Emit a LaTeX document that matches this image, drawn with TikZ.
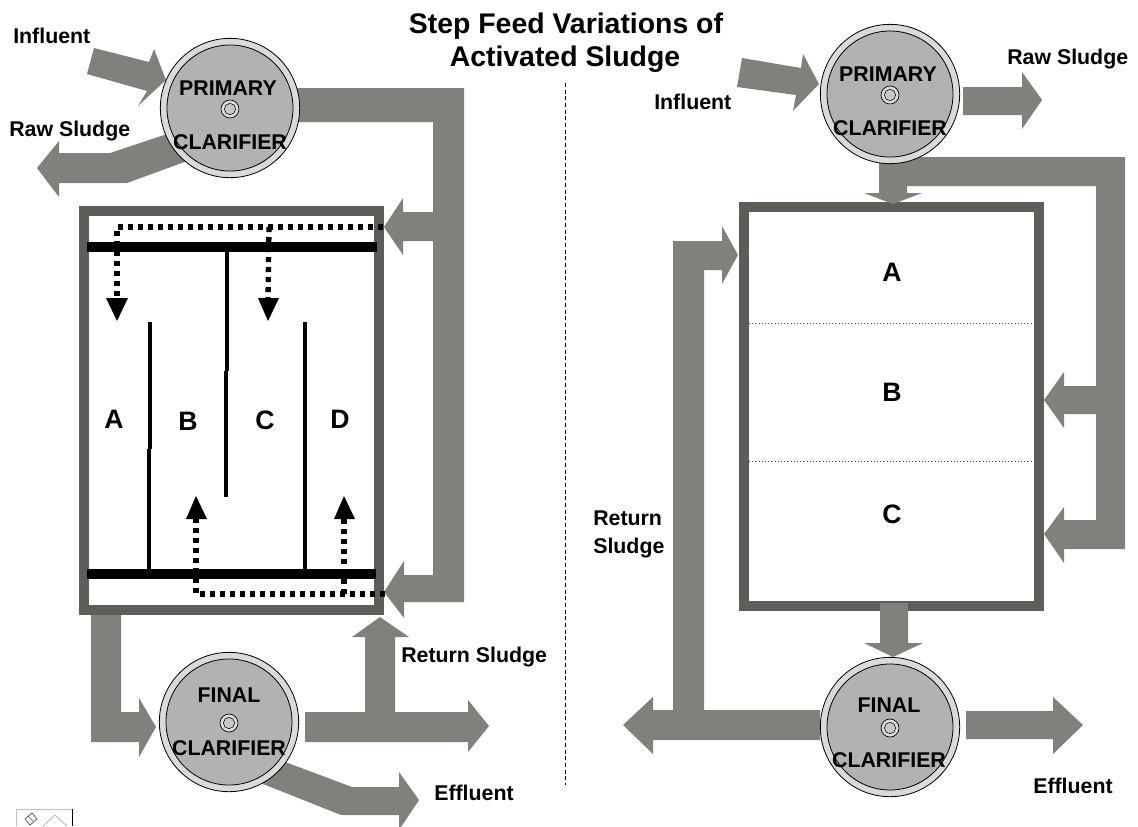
\documentclass[tikz,border=0pt]{standalone}
\usepackage{fontspec}
\setmainfont{Liberation Sans}
\usetikzlibrary{arrows.meta}
\definecolor{pipegray}{HTML}{7F817D}
\definecolor{tankgray}{HTML}{5C5E5A}
\definecolor{discgray}{HTML}{B2B2B2}
\definecolor{ringgray}{HTML}{DADADA}
\definecolor{hubgray}{HTML}{C8C8C8}
\tikzset{
  pipe/.style={fill=pipegray,draw=none},
  tank/.style={draw=tankgray,line width=7.5pt,fill=white},
  clarouter/.style={circle,draw=black,line width=0.6pt,fill=ringgray,inner sep=0,outer sep=0,minimum size=104.5pt},
  clarinner/.style={circle,draw=black,line width=0.6pt,fill=discgray,inner sep=0,outer sep=0,minimum size=94.5pt},
  hubouter/.style={circle,draw=black,line width=0.5pt,fill=ringgray,inner sep=0,outer sep=0,minimum size=13.5pt},
  hubinner/.style={circle,draw=black,line width=0.4pt,fill=hubgray,inner sep=0,outer sep=0,minimum size=8.5pt},
  lab/.style={font=\fontsize{16}{18}\selectfont\bfseries,inner sep=0,text height=0.72em,text depth=0.21em,yshift=-3pt},
  letterlab/.style={font=\fontsize{20}{22}\selectfont\bfseries,inner sep=0},
  titlelab/.style={font=\fontsize{21.3}{24}\selectfont\bfseries,inner sep=0,text height=0.72em,text depth=0.21em,yshift=-4pt},
  wall/.style={draw=black,line width=3pt},
  bar/.style={draw=black,line width=7.5pt},
  flow/.style={draw=black,line width=4pt,dash pattern=on 3.8pt off 3.7pt},
  flowhead/.style={fill=black,draw=none},
  divide/.style={draw=black!70,line width=0.4pt,dotted},
}
\begin{document}
\begin{tikzpicture}[x=0.75pt,y=-0.75pt]
\useasboundingbox (0,0) rectangle (1138,826);
\clip (0,0) rectangle (1138,826);
\fill[white] (0,0) rectangle (1138,826);

% ---------- LEFT SCHEME ----------
\draw[tank] (84,211) rectangle (379,610);
% influent and raw sludge
\fill[pipe] (94,48) -- (87,74) -- (147,91) -- (138,106) -- (166,80) -- (154,49) -- (149,62) -- cycle;
\fill[pipe] (170,133) -- (110,153) -- (59,153) -- (59,141) -- (37,168) -- (59,197) -- (59,183) -- (127,183) -- (190,160) -- cycle;
% primary effluent pipe with two feed arrows
\fill[pipe] (295,88) -- (464,88) -- (464,602) -- (404,602) -- (404,618) -- (384,592) -- (404,561) -- (404,575) -- (433,575)
  -- (433,241) -- (403,241) -- (403,255) -- (384,227) -- (403,198) -- (403,212) -- (433,212) -- (433,122) -- (295,122) -- cycle;
% tank to final clarifier
\fill[pipe] (91,615) -- (121,615) -- (121,712) -- (139,712) -- (139,698) -- (156,727) -- (139,757) -- (139,742) -- (91,742) -- cycle;
% final clarifier outlet and return
\fill[pipe] (305,712) -- (365,712) -- (365,637) -- (352,637) -- (380,617) -- (409,637) -- (395,637) -- (395,712) -- (468,712) -- (468,700)
  -- (489,726) -- (468,752) -- (468,742) -- (305,742) -- cycle;
% effluent
\fill[pipe] (280,760) -- (352,787) -- (399,787) -- (399,772) -- (419,800) -- (399,830) -- (399,815) -- (341,815) -- (258,782) -- cycle;

% internal walls
\draw[bar] (87,247) -- (377,247);
\draw[bar] (87,573.5) -- (376,573.5);
\draw[wall] (227,252) -- (227,371);
\draw[wall] (226,371) -- (226,497);
\draw[wall] (150,322) -- (150,449);
\draw[wall] (149,449) -- (149,570);
\draw[wall] (305,322) -- (305,570);
% dotted feeds
\coordinate (ftl) at (383,227);
\coordinate (fta) at (117,227);
\coordinate (fth) at (117,300);
\coordinate (ftb) at (269,227);
\coordinate (fti) at (268,300);
\coordinate (fbr) at (385,594);
\coordinate (fbb) at (196,594);
\coordinate (fbh) at (196,518);
\coordinate (fbd) at (344,594);
\coordinate (fbi) at (344,518);
\draw[flow] (ftl) -- (fta) -- (fth);
\draw[flow] (ftb) -- (fti);
\draw[flow] (fbr) -- (fbb) -- (fbh);
\draw[flow] (fbd) -- (fbi);
\fill[flowhead] (106,298) -- (128,298) -- (117,321) -- cycle;
\fill[flowhead] (258,298) -- (279,298) -- (268,321) -- cycle;
\fill[flowhead] (186,519) -- (207,519) -- (196,496) -- cycle;
\fill[flowhead] (334,519) -- (355,519) -- (344,496) -- cycle;

% clarifiers
\node[clarouter] (pl) at (230,108) {};
\node[clarinner] (plin) at (230,108) {};
\node[hubouter] (plh) at (230,109) {};
\node[hubinner] (plhi) at (230,109) {};
\node[clarouter] (fl) at (229,722) {};
\node[clarinner] (flin) at (229,722) {};
\node[hubouter] (flh) at (229,723) {};
\node[hubinner] (flhi) at (229,723) {};

\node[lab] (t1) at (228,88) {PRIMARY};
\node[lab] (t2) at (230,142) {CLARIFIER};
\node[lab] (t3) at (229,695) {FINAL};
\node[lab] (t4) at (229,748) {CLARIFIER};
\node[lab,anchor=west] (t5) at (13,36) {Influent};
\node[lab,anchor=west] (t6) at (9,129) {Raw Sludge};
\node[lab,anchor=west] (t7) at (401,655) {Return Sludge};
\node[lab,anchor=west] (t8) at (434,793) {Effluent};
\node[letterlab] (la) at (114,419) {A};
\node[letterlab] (lb) at (188,421) {B};
\node[letterlab] (lc) at (265,420) {C};
\node[letterlab] (ld) at (340,419) {D};

% ---------- CENTRE ----------
\node[titlelab] (title1) at (566,25) {Step Feed Variations of};
\node[titlelab] (title2) at (565,58) {Activated Sludge};
\coordinate (dtop) at (565,83);
\coordinate (dbot) at (565,785);
\draw[black,line width=0.5pt,dash pattern=on 3pt off 2pt] (dtop) -- (dbot);

% ---------- RIGHT SCHEME ----------
\draw[tank] (744,207) rectangle (1039,606);
\draw[divide] (749,323) -- (1034,323);
\draw[divide] (749,461) -- (1034,461);
% influent, raw sludge
\fill[pipe] (742,58) -- (737,87) -- (796,95) -- (793,111) -- (819,84) -- (803,54) -- (801,68) -- cycle;
\fill[pipe] (963,87) -- (1022,87) -- (1022,72) -- (1042,100) -- (1022,129) -- (1022,115) -- (963,115) -- cycle;
% step feed pipe
\fill[pipe] (879,150) -- (907,150) -- (907,157) -- (1125,157) -- (1125,549) -- (1064,549) -- (1064,563) -- (1044,534) -- (1064,507) -- (1064,520) -- (1096,520)
  -- (1096,414) -- (1064,414) -- (1064,428) -- (1044,400) -- (1064,372) -- (1064,386) -- (1096,386) -- (1096,186) -- (907,186) -- (907,193) -- (922,193)
  -- (893,204) -- (864,193) -- (879,193) -- cycle;
% return sludge
\fill[pipe] (820,710) -- (704,710) -- (704,270) -- (722,270) -- (722,284) -- (738,255) -- (722,226) -- (722,241) -- (673,241) -- (673,710) -- (653,710) -- (653,697)
  -- (623,725) -- (653,754) -- (653,740) -- (820,740) -- cycle;
% tank to final
\fill[pipe] (880,603) -- (908,603) -- (908,643) -- (923,643) -- (893,657) -- (864,643) -- (880,643) -- cycle;
% effluent
\fill[pipe] (966,711) -- (1053,711) -- (1053,697) -- (1083,725) -- (1053,754) -- (1053,739) -- (966,739) -- cycle;

\node[clarouter] (pr) at (890,94) {};
\node[clarinner] (prin) at (890,94) {};
\node[hubouter] (prh) at (890,95) {};
\node[hubinner] (prhi) at (890,95) {};
\node[clarouter] (fr) at (890,727) {};
\node[clarinner] (frin) at (890,727) {};
\node[hubouter] (frh) at (890,728) {};
\node[hubinner] (frhi) at (890,728) {};

\node[lab] (r1) at (888,74) {PRIMARY};
\node[lab] (r2) at (890,128) {CLARIFIER};
\node[lab] (r3) at (889,705) {FINAL};
\node[lab] (r4) at (889,760) {CLARIFIER};
\node[lab,anchor=west] (r5) at (654,102) {Influent};
\node[lab,anchor=west] (r6) at (1007,57) {Raw Sludge};
\node[lab,anchor=west] (r7) at (593,518) {Return};
\node[lab,anchor=west] (r8) at (593,546) {Sludge};
\node[lab,anchor=west] (r9) at (1033,786) {Effluent};
\node[letterlab] (ra) at (892,272) {A};
\node[letterlab] (rb) at (892,392) {B};
\node[letterlab] (rc) at (892,514) {C};

% small icon remnant, bottom left
\draw[gray!50,line width=0.5pt] (16,826) -- (16,809) -- (72,809);
\draw[black,line width=0.8pt] (72.5,809) -- (72.5,826);
\draw[gray!70,line width=0.5pt] (43,826) -- (55,815) -- (67,826);
\draw[black!70,line width=0.5pt] (25,819) -- (32,813) -- (37,819) -- (30,825) -- cycle;
\draw[black!70,line width=0.5pt] (28,816) -- (33,821);
\end{tikzpicture}
\end{document}
